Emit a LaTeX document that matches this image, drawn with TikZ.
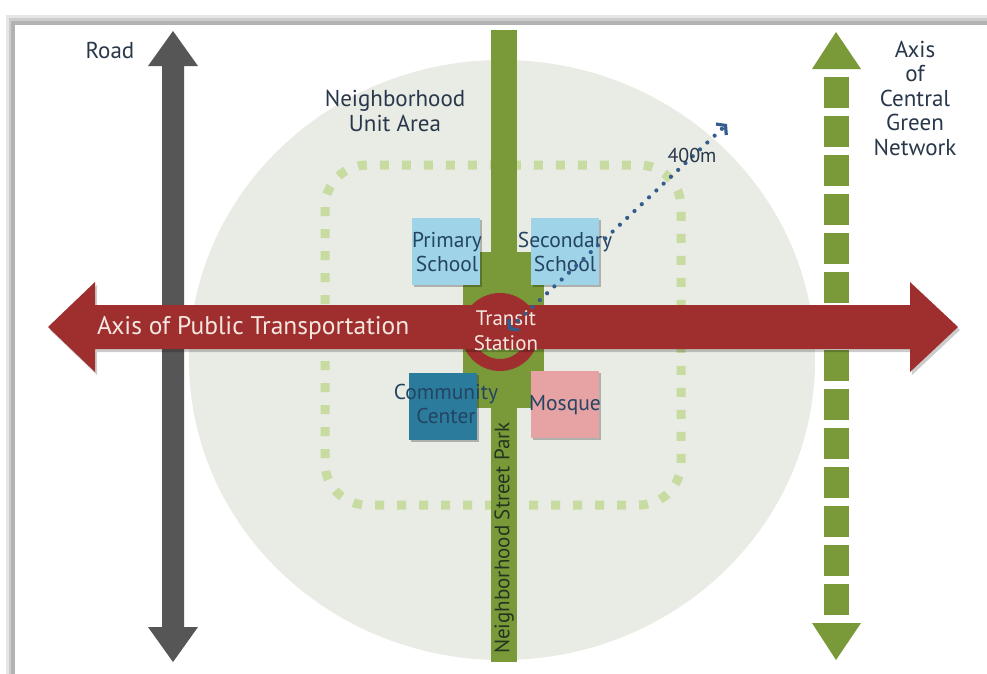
\documentclass[tikz,border=0pt]{standalone}
\usepackage{fontspec}
\setmainfont{PT Sans}
\usetikzlibrary{arrows.meta,shadows}
\definecolor{roadgray}{HTML}{565656}
\definecolor{cgreen}{HTML}{7A9A3A}
\definecolor{cred}{HTML}{9E2F2E}
\definecolor{areabg}{HTML}{E9EBE5}
\definecolor{dotgreen}{HTML}{C8DBA0}
\definecolor{txt}{HTML}{28384A}
\definecolor{schooltxt}{HTML}{244462}
\definecolor{schoolblue}{HTML}{9ED3E8}
\definecolor{commteal}{HTML}{2B7C9C}
\definecolor{mosquepink}{HTML}{E7A2A3}
\definecolor{distblue}{HTML}{345C8C}
\definecolor{lighttxt}{HTML}{F6E6E0}
\definecolor{parktxt}{HTML}{25341E}
\begin{document}
\begin{tikzpicture}[x=1pt,y=-1pt,
  lbl/.style={text=txt, font=\fontsize{23}{24.5}\selectfont, align=center, inner sep=0pt},
  boxlbl/.style={text=schooltxt, font=\fontsize{21.5}{24}\selectfont, align=center, inner sep=0pt},
  facility/.style={draw=none, minimum width=68pt, minimum height=67pt, anchor=north west, inner sep=0pt,
    drop shadow={shadow xshift=2pt, shadow yshift=-2pt, opacity=0.25, fill=black}},
  shadowed/.style={drop shadow={shadow xshift=2pt, shadow yshift=-3pt, opacity=0.2, fill=black}}]
\useasboundingbox (0,0) rectangle (987,673);
\clip (0,0) rectangle (987,673);
% frame
\fill[gray!20] (6,15) rectangle (1000,690);
\fill[gray!40] (9,18) rectangle (1000,690);
\fill[gray!60] (11,21) rectangle (1000,690);
\fill[white] (15,25) rectangle (1000,690);
% neighborhood area
\fill[areabg] (502,360) ellipse [x radius=313pt, y radius=300pt];
% dotted walking square
\draw[dotgreen, line width=9pt, rounded corners=42pt, dash pattern=on 9pt off 13pt] (325,165) rectangle (681,505);
% road arrow
\fill[roadgray] (173,31) -- (198,66) -- (184,66) -- (184,627) -- (198,627) -- (173,662)
  -- (148,627) -- (162,627) -- (162,66) -- (148,66) -- cycle;
% green network dashed arrow
\fill[cgreen] (836,32) -- (861,69) -- (812,69) -- cycle;
\foreach \i in {0,...,13} \fill[cgreen] (824,77+39*\i) rectangle (849,108+39*\i);
\fill[cgreen] (812,623) -- (861,623) -- (836,660) -- cycle;
% street park
\fill[cgreen] (491,30) rectangle (517,662);
\fill[cgreen] (463,252) rectangle (544,408);
% transit ring
\draw[cred, line width=12pt] (500,332) circle[radius=33pt];
% public transport arrow
\fill[cred, shadowed] (48,327) -- (95,282) -- (95,305) -- (910,305) -- (910,282) -- (958,327)
  -- (910,372) -- (910,349) -- (95,349) -- (95,372) -- cycle;
% facilities
\node[facility, fill=schoolblue] (ps) at (412,218) {};
\node[facility, fill=schoolblue] (ss) at (531,218) {};
\node[facility, fill=commteal] (cc) at (409,373) {};
\node[facility, fill=mosquepink] (mq) at (531,371) {};
\node[boxlbl] (pst) at (447,252) {Primary\\School};
\node[boxlbl] (sst) at (565,252) {Secondary\\School};
\node[boxlbl] (cct) at (446,404) {Community\\Center};
\node[boxlbl] (mqt) at (565,405) {Mosque};
% transit text
\node[text=lighttxt, font=\fontsize{21}{25}\selectfont, align=center, inner sep=0pt] (transit) at (506,331) {Transit\\Station};
% 400m distance arrow
\coordinate (r0) at (508,330);
\coordinate (r1) at (727,124);
\draw[distblue, line width=4.2pt, line cap=round, dash pattern=on 0pt off 10pt,
  {Straight Barb[length=6pt,width=15pt,line width=3.2pt]}-{Straight Barb[length=6pt,width=15pt,line width=3.2pt]}] (r0) -- (r1);
\node[lbl, font=\fontsize{20}{22}\selectfont] (dist) at (692,155) {400m};
% labels
\node[lbl] (road) at (110,50) {Road};
\node[lbl] (green) at (915,98) {Axis\\of\\Central\\Green\\Network};
\node[lbl] (unit) at (395,111) {Neighborhood\\Unit Area};
\node[text=lighttxt, font=\fontsize{25.5}{27}\selectfont, anchor=west, inner sep=0pt] (pt) at (97,328) {Axis of Public Transportation};
\node[text=parktxt, font=\fontsize{21}{22}\selectfont, rotate=90, inner sep=0pt] (park) at (504,538) {Neighborhood Street Park};
\end{tikzpicture}
\end{document}
